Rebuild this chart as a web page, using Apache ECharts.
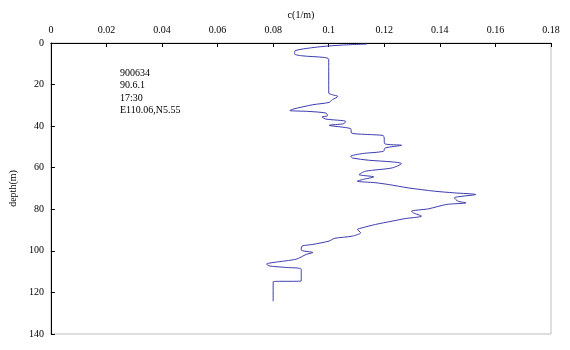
<!DOCTYPE html>
<html>
<head>
<meta charset="utf-8">
<script src="https://cdn.jsdelivr.net/npm/echarts@6/dist/echarts.min.js"></script>
<style>
  html, body { margin: 0; padding: 0; background: #fff; }
  #chart { width: 570px; height: 350px; }
</style>
</head>
<body>
<div id="chart"></div>
<script>
// Station profile: attenuation coefficient c (1/m) versus depth (m)
const depthValues = [
  0.5, 1, 1.8, 3.7, 5.3, 6.2, 6.9, 7.8, 24.1, 24.9, 25.7, 27.3, 28.6, 29.7,
  31.8, 32.5, 32.9, 33.7, 35, 35.6, 36.6, 37.7, 38.8, 39.6, 41.2, 43.3, 43.8,
  44.4, 45, 48.4, 49.2, 50.5, 52.1, 53.2, 54.5, 55.3, 56.4, 57.2, 58, 60.1,
  61.7, 63.3, 64.4, 65.7, 66.5, 67.2, 68.1, 69.7, 71.3, 72.1, 72.9, 74.5,
  76.1, 76.9, 77.7, 79.8, 80.9, 81.7, 83.3, 84.5, 85.7, 87.3, 88.9, 89.7,
  91.3, 92.9, 94, 95.3, 96.9, 97.7, 99.6, 100.8, 101.7, 104, 106.4, 107.3,
  108, 108.9, 114.5, 114.8, 124.3
];
const cValues = [
  0.1137, 0.1048, 0.0969, 0.0879, 0.0877, 0.0907, 0.0979, 0.1, 0.1, 0.1013,
  0.1033, 0.1013, 0.1001, 0.0943, 0.0872, 0.0860, 0.0925, 0.0990, 0.0996,
  0.0976, 0.0990, 0.1061, 0.1055, 0.1002, 0.1079, 0.1082, 0.1109, 0.1192,
  0.1199, 0.1201, 0.1262, 0.1203, 0.1197, 0.1121, 0.1079, 0.1085, 0.1144,
  0.1228, 0.1262, 0.1228, 0.1132, 0.1109, 0.1162, 0.1121, 0.1103, 0.1167,
  0.1216, 0.1286, 0.1381, 0.1452, 0.1529, 0.1452, 0.1465, 0.1494, 0.1423,
  0.1358, 0.1298, 0.1304, 0.1334, 0.1274, 0.1228, 0.1168, 0.1121, 0.1103,
  0.1115, 0.1085, 0.1020, 0.1001, 0.0943, 0.0904, 0.0901, 0.0943, 0.0919,
  0.0883, 0.0776, 0.0788, 0.0848, 0.0901, 0.0901, 0.08, 0.08
];
const stationLines = ['900634', '90.6.1', '17:30', 'E110.06,N5.55'];

const profile = depthValues.map((d, i) => [cValues[i], d]);
const baseFont = '"Liberation Serif", "DejaVu Serif", serif';

const chart = echarts.init(document.getElementById('chart'), null, { renderer: 'canvas' });
chart.setOption({
  animation: false,
  backgroundColor: '#fff',
  grid: {
    left: 45, right: 19, top: 43, bottom: 16,
    show: true, borderColor: '#bdbdbd', borderWidth: 1
  },
  xAxis: {
    type: 'value',
    position: 'top',
    min: 0, max: 0.18, interval: 0.02,
    name: 'c(1/m)',
    nameLocation: 'middle',
    nameGap: 21,
    nameTextStyle: { color: '#000', fontSize: 10, fontFamily: baseFont },
    axisLine: { show: true, lineStyle: { color: '#000', width: 1 } },
    axisTick: { show: true, inside: true, length: 4, lineStyle: { color: '#000' } },
    axisLabel: {
      color: '#000', fontSize: 10, fontFamily: baseFont, margin: 8,
      formatter: v => (Math.round(v * 100) / 100).toString()
    },
    splitLine: { show: false }
  },
  yAxis: {
    type: 'value',
    inverse: true,
    min: 0, max: 140, interval: 20,
    name: 'depth(m)',
    nameLocation: 'middle',
    nameRotate: 90,
    nameGap: 27,
    nameTextStyle: { color: '#000', fontSize: 10, fontFamily: baseFont },
    axisLine: { show: true, lineStyle: { color: '#000', width: 1 } },
    axisTick: { show: true, inside: true, length: 4, lineStyle: { color: '#000' } },
    axisLabel: { color: '#000', fontSize: 10, fontFamily: baseFont, margin: 7 },
    splitLine: { show: false }
  },
  graphic: stationLines.map((t, i) => ({
    type: 'text',
    left: 120,
    top: 68 + i * 12.5,
    style: { text: t, fill: '#000', font: '10px ' + baseFont }
  })),
  series: [{
    type: 'line',
    data: profile,
    showSymbol: false,
    smooth: 0.25,
    lineStyle: { color: '#3c3cb0', width: 1 }
  }]
});
</script>
</body>
</html>
